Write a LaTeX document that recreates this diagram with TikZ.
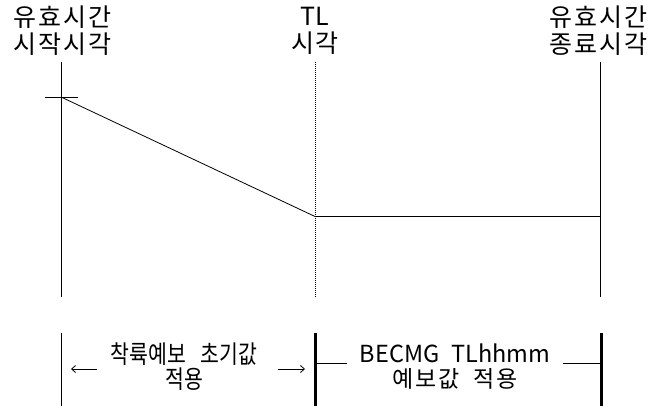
\documentclass[tikz,border=0pt]{standalone}
\usepackage{fontspec}
\setmainfont{Noto Sans CJK KR}
\newfontfamily\narrowkr[FakeStretch=0.82]{Noto Sans CJK KR}
\newfontfamily\widekr[LetterSpace=8]{Noto Sans CJK KR}
\usetikzlibrary{calc,arrows.meta}

\tikzset{
  toplbl/.style={font=\widekr\fontsize{25}{27}\selectfont, align=center, inner sep=0pt},
  botlbl/.style={font=\narrowkr\fontsize{25}{25}\selectfont, align=center, inner sep=0pt},
  thinln/.style={line width=0.8pt},
  thickln/.style={line width=3pt},
  dotln/.style={line width=0.8pt, dash pattern=on 1pt off 1pt},
}

\begin{document}
\begin{tikzpicture}[x=1pt,y=-1pt]
    \useasboundingbox (0,0) rectangle (654,406);
    % top labels
    \node[toplbl] (start) at (62,31) {유효시간\\시작시각};
    \node[toplbl] (tl) at (315,31) {{\rmfamily TL}\\시각};
    \node[toplbl] (end) at (598,31) {유효시간\\종료시각};
    % time lines
    \coordinate (s1) at (61,62);  \coordinate (s2) at (61,297);
    \coordinate (t1) at (315,62); \coordinate (t2) at (315,297);
    \coordinate (e1) at (600,62); \coordinate (e2) at (600,297);
    \draw[thinln] (s1) -- (s2);
    \draw[dotln] (t1) -- (t2);
    \draw[thinln] (e1) -- (e2);
    % value curve
    \coordinate (p0) at (61,97);
    \coordinate (p1) at (315,216.5);
    \coordinate (p2) at (600,216.5);
    \draw[thinln] (45,97) -- (78,97);
    \draw[thinln] (p0) -- (p1) -- (p2);
    % bottom periods
    \draw[thinln] (61,333) -- (61,406);
    \draw[thickln] (315,333) -- (315,406);
    \draw[thickln] (601,333) -- (601,406);
    \node[botlbl] (init) at (184,367) {착륙예보\hspace{0.6em}초기값\\적용};
    \node[botlbl] (becmg) at (455,367) {{\rmfamily\fontsize{23.5}{25}\selectfont BECMG\hspace{0.5em}TLhhmm}\\{\widekr\fontsize{23}{25}\selectfont 예보값\hspace{0.6em}적용}};
    \coordinate (a1) at (71,369); \coordinate (a2) at (97,369);
    \coordinate (a3) at (278,369); \coordinate (a4) at (305,369);
    \draw[thinln, ->, >={Straight Barb[length=4pt,width=7pt]}] (a2) -- (a1);
    \draw[thinln, ->, >={Straight Barb[length=4pt,width=7pt]}] (a3) -- (a4);
    \draw[thinln] (315,363) -- (347,363);
    \draw[thinln] (563,363) -- (601,363);
\end{tikzpicture}
\end{document}
